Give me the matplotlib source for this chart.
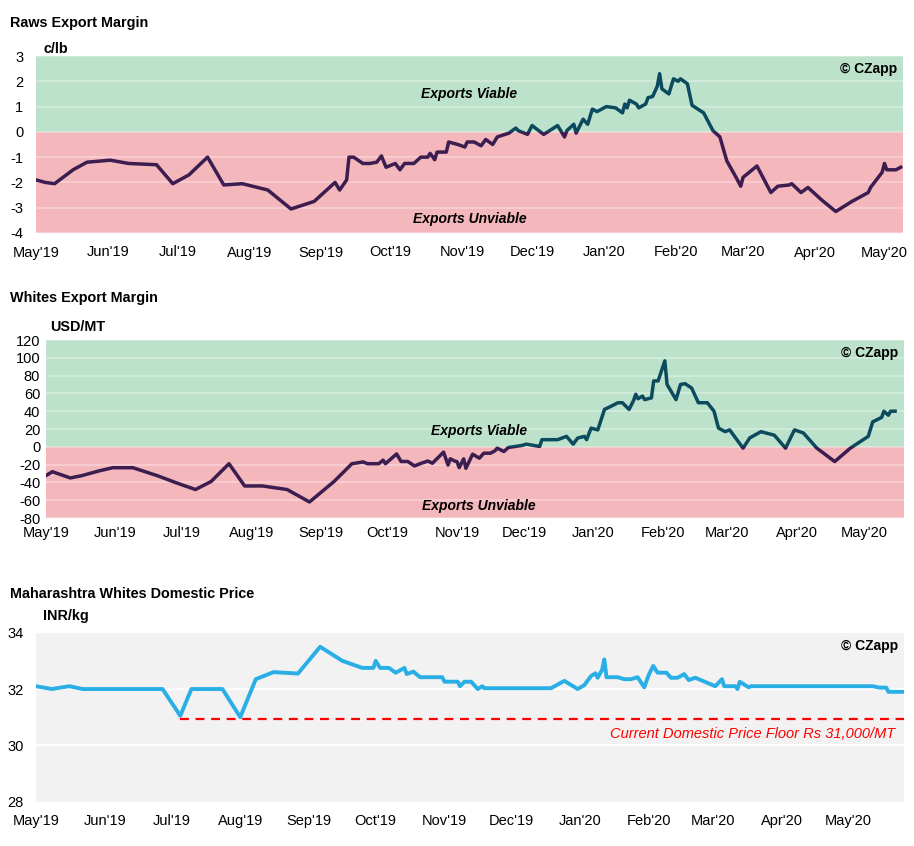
import numpy as np
import matplotlib
matplotlib.use("Agg")
import matplotlib.pyplot as plt
import matplotlib.dates as mdates

plt.rcParams['font.family'] = ['Liberation Sans', 'DejaVu Sans']
plt.rcParams['axes.unicode_minus'] = False

START = np.datetime64('2019-05-01')

# Raws export margin, c/lb  (days since 1 May 2019)
raws_days = [0, 4, 8, 16, 22, 32, 40, 52, 59, 66, 74, 81, 89, 100, 110, 120, 129, 131, 134, 135,
             137, 141, 144, 147, 149, 151, 155, 157, 159, 163, 166, 169, 170, 172, 173, 177, 178, 182, 185, 186,
             189, 192, 194, 197, 199, 204, 207, 208, 212, 214, 219, 225, 226, 228, 229, 232, 233, 236, 238, 240,
             242, 246, 250, 253, 254, 255, 256, 259, 260, 263, 264, 266, 268, 269, 270, 273, 275, 277, 278, 281,
             283, 288, 292, 295, 298, 302, 304, 305, 311, 317, 320, 325, 326, 330, 333, 339, 345, 352, 359, 360,
             365, 366, 367, 371, 373]
raws_vals = [-1.9, -2.0, -2.05, -1.5, -1.2, -1.12, -1.25, -1.3, -2.05, -1.7,
             -1.0, -2.1, -2.05, -2.3, -3.05, -2.75, -2.0, -2.3, -1.9, -1.0,
             -1.0, -1.25, -1.25, -1.2, -0.95, -1.4, -1.25, -1.5, -1.25, -1.25,
             -1.0, -1.0, -0.85, -1.1, -0.8, -0.8, -0.4, -0.5, -0.6, -0.4,
             -0.4, -0.55, -0.3, -0.5, -0.2, -0.05, 0.15, 0.05, -0.1, 0.25,
             -0.1, 0.25, 0.1, -0.2, 0.05, 0.3, -0.05, 0.5, 0.3, 0.9,
             0.8, 1.0, 0.95, 0.75, 1.1, 0.95, 1.25, 1.1, 0.95, 1.1,
             1.35, 1.4, 1.8, 2.3, 1.7, 1.5, 2.1, 2.0, 2.1, 1.9,
             1.05, 0.75, 0.05, -0.2, -1.15, -1.8, -2.15, -1.8, -1.35, -2.4,
             -2.15, -2.1, -2.05, -2.4, -2.2, -2.7, -3.15, -2.75, -2.4, -2.2,
             -1.6, -1.25, -1.5, -1.5, -1.4]

# Whites export margin, USD/MT
whites_days = [0, 3, 11, 16, 24, 30, 39, 50, 59, 67, 74, 82, 89, 97, 108, 118, 129, 137, 142, 144,
               149, 151, 152, 157, 159, 162, 165, 168, 171, 173, 178, 180, 181, 183,
               184, 185, 187, 188, 191, 194, 196, 199, 201, 202, 205, 207, 213, 215, 221, 222, 229, 233, 236, 238,
               241, 242, 244, 247, 250, 253, 256, 258, 261, 263, 264, 265, 267, 268, 271, 272, 274, 277, 278, 282,
               284, 286, 289, 292, 296, 299, 301, 304, 306, 312, 315, 320, 326, 331, 335, 339, 345, 353, 360, 368,
               370, 374, 375, 377, 378, 380]
whites_vals = [-32.5, -28, -35, -32.5, -27, -23.5, -23.5, -32.5, -41, -48,
               -39, -19, -44, -44, -48, -62, -39, -19, -17, -19,
               -19, -15, -19, -8, -16.5, -16.5, -21.5, -18.5, -16, -18.5,
               -6, -20.5, -13.5, -16,
               -16.6, -23.4, -13.6, -24.2, -8.3, -12.8, -7.2, -7.2, -4.5, -1.5,
               -5.3, -0.8, 1.5, 3, 0.4, 8, 8, 11.7, 3, 9.8,
               11.7, 8, 21, 19, 42, 45.6, 49.5, 49.5, 42, 52,
               59, 54, 57, 53, 55, 74, 74, 96.6, 70, 53,
               70, 71, 66, 49.5, 49.5, 40, 21, 17, 19, -1.5,
               10, 17, 13, -1.5, 19, 15.5, -1.5, -16.6, -1.5, 11.7,
               28, 33, 40, 35.5, 40, 40]

# Maharashtra whites domestic price, INR/kg
dom_days = [0, 7, 15, 21, 57, 65, 70, 84, 92, 99, 107, 118, 128, 138, 147, 152, 153, 155, 159, 162,
            166, 167, 170, 173, 183, 184, 190, 191, 193, 196, 199, 201, 202, 232, 238, 244, 247, 250, 252, 253,
            255, 256, 257, 262, 265, 268, 271, 274, 276, 278, 280, 284, 286, 289, 292, 294, 297, 306, 309, 310,
            315, 316, 317, 321, 322, 377, 380, 383, 384, 391]
dom_vals = [32.1, 32.0, 32.1, 32.0, 32.0, 31.05, 32.0, 32.0, 31.0, 32.35,
            32.6, 32.55, 33.5, 33.0, 32.75, 32.75, 33.0, 32.75, 32.75, 32.58,
            32.75, 32.53, 32.62, 32.42, 32.42, 32.26, 32.26, 32.1, 32.26, 32.26,
            32.0, 32.1, 32.03, 32.03, 32.29, 32.0, 32.14, 32.46, 32.56, 32.4,
            32.68, 33.05, 32.42, 32.42, 32.35, 32.35, 32.42, 32.06, 32.5, 32.82,
            32.58, 32.58, 32.4, 32.4, 32.53, 32.32, 32.4, 32.1, 32.35, 32.1,
            32.1, 32.0, 32.26, 32.06, 32.1, 32.1, 32.05, 32.05, 31.9, 31.9]
floor_days = [65, 391]
floor_val = 30.93

GREEN = '#bde2cc'
PINK = '#f4b7bc'
TEAL = '#0c4a5e'
PURPLE = '#3b1d4f'

fig = plt.figure(figsize=(9.14, 8.46), dpi=100)
W, H = 914, 846


def add_ax(x0, x1, ytop, ybot):
    return fig.add_axes([x0 / W, 1 - ybot / H, (x1 - x0) / W, (ybot - ytop) / H])


def style(ax, end_day, ypad, xpad):
    ax.set_xlim(START, START + np.timedelta64(end_day, 'D'))
    ax.xaxis.set_major_locator(mdates.MonthLocator())
    ax.xaxis.set_major_formatter(mdates.DateFormatter("%b'%y"))
    ax.tick_params(length=0, labelsize=10.5)
    ax.tick_params(axis='y', pad=ypad)
    ax.tick_params(axis='x', pad=xpad)
    for s in ax.spines.values():
        s.set_visible(False)


def margin_panel(ax, days, vals, ylim, step):
    hi_span = ax.axhspan(0, ylim[1], color=GREEN, lw=0, zorder=0)
    lo_span = ax.axhspan(ylim[0], 0, color=PINK, lw=0, zorder=0)
    for y in np.arange(ylim[0], ylim[1] + 0.01, step):
        ax.axhline(y, color='white', alpha=0.35, lw=1.2, zorder=1)
    x = START + np.array(days).astype('timedelta64[D]')
    hi, = ax.plot(x, vals, color=TEAL, lw=2.5, zorder=3, solid_joinstyle='round')
    hi.set_clip_path(hi_span)
    lo, = ax.plot(x, vals, color=PURPLE, lw=2.5, zorder=3, solid_joinstyle='round')
    lo.set_clip_path(lo_span)
    ax.set_ylim(*ylim)
    ax.set_yticks(np.arange(ylim[0], ylim[1] + 0.01, step))


def czapp(ax):
    ax.text(0.993, 0.965, '\u00a9 CZapp', transform=ax.transAxes, ha='right', va='top',
            fontsize=10, fontweight='bold', family=['Liberation Sans Narrow', 'Liberation Sans', 'DejaVu Sans'])


# ---- Raws
ax1 = add_ax(36, 903, 56, 233)
margin_panel(ax1, raws_days, raws_vals, (-4, 3), 1)
style(ax1, 374, 9, 9)
ax1.text(0.5, 0.785, 'Exports Viable', transform=ax1.transAxes, ha='center', va='center',
         fontsize=10, fontweight='bold', style='italic')
ax1.text(0.5, 0.079, 'Exports Unviable', transform=ax1.transAxes, ha='center', va='center',
         fontsize=10, fontweight='bold', style='italic')
czapp(ax1)
fig.text(10 / W, 1 - 23 / H, 'Raws Export Margin', fontsize=10.4, fontweight='bold', va='center')
fig.text(44 / W, 1 - 49 / H, 'c/lb', fontsize=10.4, fontweight='bold', va='center')

# ---- Whites
ax2 = add_ax(45.7, 904, 340, 518)
margin_panel(ax2, whites_days, whites_vals, (-80, 120), 20)
style(ax2, 384, 4, 6)
ax2.text(0.505, 0.49, 'Exports Viable', transform=ax2.transAxes, ha='center', va='center',
         fontsize=10, fontweight='bold', style='italic')
ax2.text(0.505, 0.07, 'Exports Unviable', transform=ax2.transAxes, ha='center', va='center',
         fontsize=10, fontweight='bold', style='italic')
czapp(ax2)
fig.text(10 / W, 1 - 298 / H, 'Whites Export Margin', fontsize=10.4, fontweight='bold', va='center')
fig.text(50 / W, 1 - 327 / H, 'USD/MT', fontsize=10.4, fontweight='bold', va='center')

# ---- Domestic
ax3 = add_ax(36, 904, 632.7, 801.7)
ax3.set_facecolor('#f2f2f2')
for y in [30, 32]:
    ax3.axhline(y, color='white', lw=1.5, zorder=1)
xd = START + np.array(dom_days).astype('timedelta64[D]')
ax3.plot(xd, dom_vals, color='#29aee6', lw=2.8, zorder=3, solid_joinstyle='round')
xf = START + np.array(floor_days).astype('timedelta64[D]')
ax3.plot(xf, [floor_val, floor_val], color='#ff0000', lw=1.6, ls=(0, (4, 3)), zorder=2)
ax3.text(0.99, 0.40, 'Current Domestic Price Floor Rs 31,000/MT', transform=ax3.transAxes,
         ha='right', va='center', fontsize=10.5, style='italic', color='#ff0000')
ax3.set_ylim(28, 34)
ax3.set_yticks([28, 30, 32, 34])
style(ax3, 391, 9, 9)
czapp(ax3)
fig.text(10 / W, 1 - 594 / H, 'Maharashtra Whites Domestic Price', fontsize=10.4, fontweight='bold', va='center')
fig.text(43 / W, 1 - 616 / H, 'INR/kg', fontsize=10.4, fontweight='bold', va='center')

fig.savefig('out.png', dpi=100)
